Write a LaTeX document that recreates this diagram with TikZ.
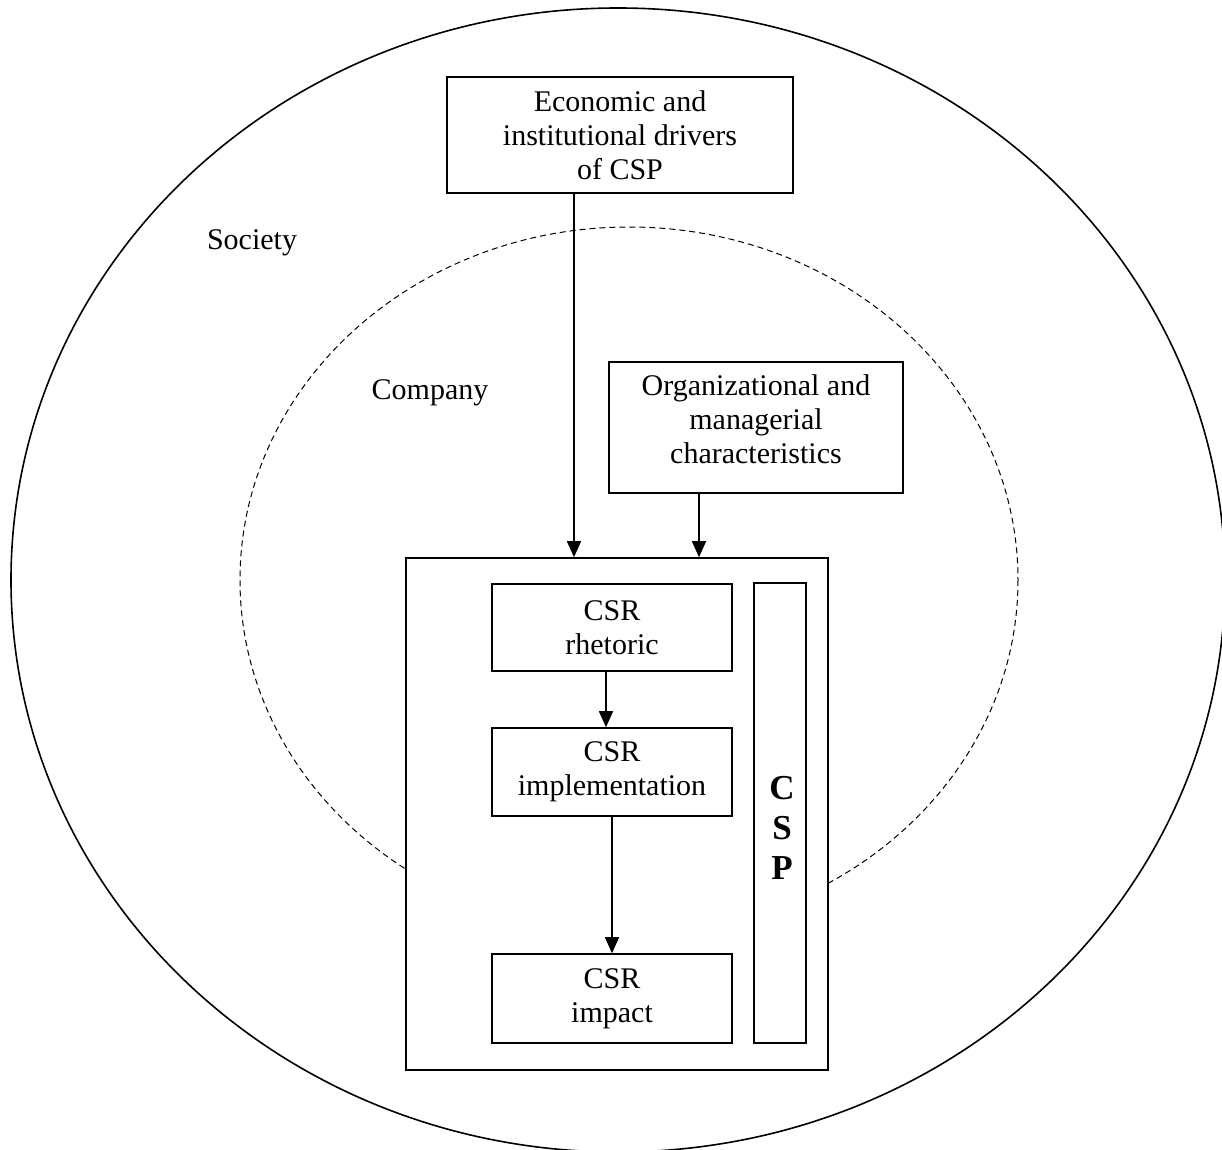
\documentclass[tikz,border=0pt]{standalone}
\usepackage{fontspec}
\setmainfont{Liberation Serif}
\usetikzlibrary{arrows.meta}
\begin{document}
\begin{tikzpicture}[x=0.5pt,y=-0.5pt,
  every node/.style={font=\fontsize{15pt}{17pt}\selectfont, align=center},
  box/.style={draw, line width=0.8pt, fill=white, rectangle, inner sep=0pt},
  arr/.style={line width=0.8pt, -{Triangle[width=7pt,length=8pt]}},
  lbl/.style={inner sep=0pt}]
\useasboundingbox (0,0) rectangle (1222,1150);

% society and company boundaries
\draw[line width=0.8pt] (618,580) ellipse [x radius=607, y radius=572];
\draw[line width=0.5pt, dash pattern=on 3pt off 2pt] (629,580) ellipse [x radius=389, y radius=353];

\node[lbl] (society) at (252,243) {Society};
\node[lbl] (company) at (430,393) {Company};

% drivers
\node[box, minimum width=173pt, minimum height=58pt] (econ) at (620,135)
  {Economic and\\institutional drivers\\of CSP};
\node[box, minimum width=147pt, minimum height=65.5pt] (org) at (756,427.5) {};
\node[lbl] (orgtext) at (756,419) {Organizational and\\managerial\\characteristics};

% performance block
\node[box, minimum width=211pt, minimum height=256pt] (perf) at (617,814) {};
\node[box, minimum width=120pt, minimum height=43.5pt] (rhet) at (612,627.5) {CSR\\rhetoric};
\node[box, minimum width=120pt, minimum height=44pt] (impl) at (612,772) {CSR\\implementation};
\node[box, minimum width=120pt, minimum height=44.5pt] (imp) at (612,998.5) {CSR\\impact};
\node[box, minimum width=26pt, minimum height=230pt] (csp) at (780,813) {};
\node[lbl, font=\fontsize{17.5pt}{20pt}\selectfont\bfseries] (csptext) at (782,828) {C\\S\\P};

% connectors
\coordinate (xa) at (574,0);
\coordinate (xb) at (699,0);
\coordinate (xc) at (606,0);
\draw[arr] (econ.south -| xa) -- (perf.north -| xa);
\draw[arr] (org.south -| xb) -- (perf.north -| xb);
\draw[arr] (rhet.south -| xc) -- (impl.north -| xc);
\draw[arr] (impl.south) -- (imp.north);
\end{tikzpicture}
\end{document}
